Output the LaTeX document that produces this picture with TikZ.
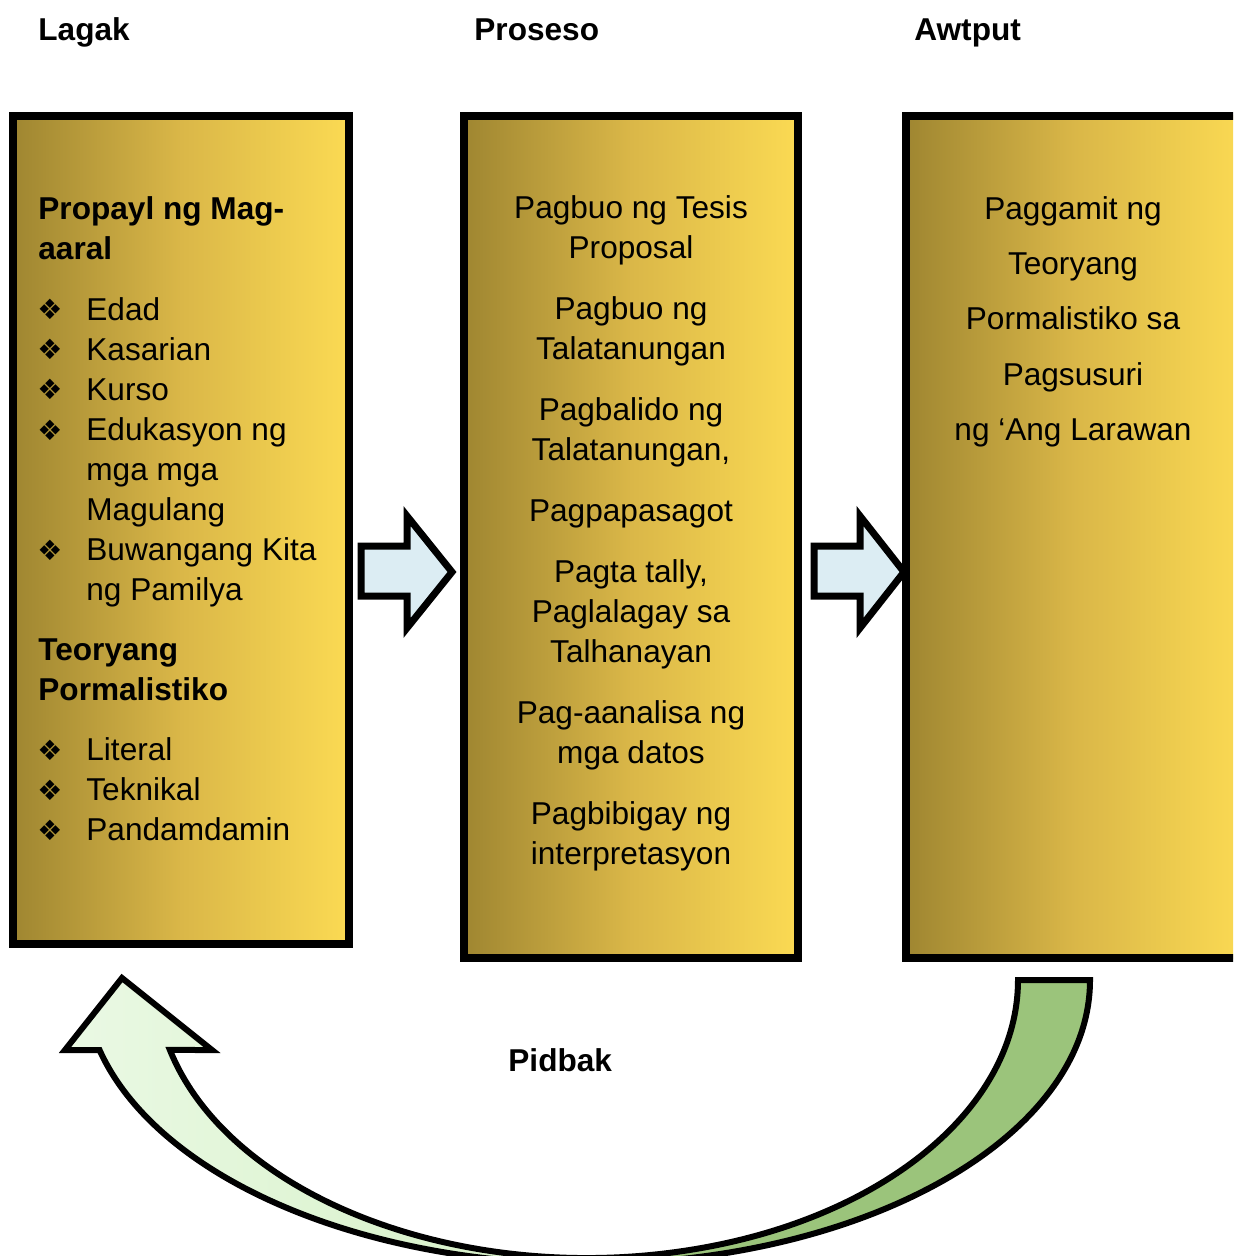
\documentclass[tikz,border=0pt]{standalone}
\usepackage{fontspec}
\setmainfont{Liberation Sans}
\newfontfamily\symfont{DejaVu Sans}
\usetikzlibrary{positioning}

\definecolor{goldL}{HTML}{9F8631}
\definecolor{goldM}{HTML}{DAB748}
\definecolor{goldR}{HTML}{FBDA53}
\definecolor{arrowblue}{HTML}{DCEDF3}
\definecolor{paleL}{HTML}{EAF9E4}
\definecolor{paleR}{HTML}{D4F0C4}
\definecolor{leaf}{HTML}{9BC47B}

\tikzset{
	stage/.style={draw=black, line width=4pt, left color=goldL, right color=goldR, middle color=goldM},
	txt/.style={inner sep=0pt, font=\fontsize{15.8}{20}\selectfont},
	hd/.style={inner sep=0pt, font=\fontsize{15.8}{20}\selectfont\bfseries},
	bullet/.style={inner sep=0pt, font=\fontsize{14}{16}\selectfont\symfont, anchor=base},
	blockarrow/.style={draw=black, line width=3.5pt, fill=arrowblue, line join=miter},
}

\begin{document}
\begin{tikzpicture}[x=0.5pt, y=-0.5pt]
	\useasboundingbox (0,0) rectangle (1233,1256);
	\clip (0,0) rectangle (1233,1256);
	
	%titles
	\node[hd, anchor=base west] (lagak) at (38,41) {Lagak};
	\node[hd, anchor=base west] (proseso) at (474,41) {Proseso};
	\node[hd, anchor=base west] (awtput) at (914,41) {Awtput};
	
	%Lagak box (multi-line nodes sit on their last baseline)
	\draw[stage] (13,116) rectangle (349,944);
	\node[hd, align=left, anchor=base west] (profile) at (38,260) {Propayl ng Mag-\\aaral};
	\node[txt, align=left, anchor=base west] (profilelist) at (86,600) {Edad\\Kasarian\\Kurso\\Edukasyon ng\\mga mga\\Magulang\\Buwangang Kita\\ng Pamilya};
	\foreach \y in {320,360,400,440,560}
		\node[bullet] (b\y) at (50,\y) {❖};
	\node[hd, align=left, anchor=base west] (theory) at (38,700) {Teoryang\\Pormalistiko};
	\node[txt, align=left, anchor=base west] (theorylist) at (86,840) {Literal\\Teknikal\\Pandamdamin};
	\foreach \y in {760,800,840}
		\node[bullet] (t\y) at (50,\y) {❖};
	
	%Proseso box
	\draw[stage] (464,116) rectangle (798,958);
	\node[txt, align=center, anchor=base] (steps) at (631,864) {Pagbuo ng Tesis\\Proposal\\[10.5pt]Pagbuo ng\\Talatanungan\\[10.5pt]Pagbalido ng\\Talatanungan,\\[10.5pt]Pagpapasagot\\[10.5pt]Pagta tally,\\Paglalagay sa\\Talhanayan\\[10.5pt]Pag-aanalisa ng\\mga datos\\[10.5pt]Pagbibigay ng\\interpretasyon};
	
	%Awtput box
	\draw[stage] (906,116) rectangle (1245,958);
	\node[txt, align=center, anchor=base, font=\fontsize{15.8}{27.5}\selectfont] (result) at (1073,440) {Paggamit ng\\Teoryang\\Pormalistiko sa\\Pagsusuri\\ng ‘Ang Larawan};
	
	%arrows between boxes
	\draw[blockarrow] (361,546) -- (407,546) -- (407,516) -- (452,572) -- (407,628) -- (407,596) -- (361,596) -- cycle;
	\draw[blockarrow] (814,546) -- (860,546) -- (860,516) -- (904,572) -- (860,628) -- (860,596) -- (814,596) -- cycle;
	
	%feedback arrow
	\coordinate (C) at (587,980);
	\path (C) ++(165.42:431 and 278) coordinate (innerL);
	\path (C) ++(165.73:503 and 284) coordinate (outerL);
	\coordinate (headL) at (65,1050);
	\coordinate (tip) at (122,978);
	\coordinate (headR) at (212,1050);
	\fill[left color=paleL, right color=paleR] (outerL) -- (headL) -- (tip) -- (headR) -- (innerL)
		arc[start angle=165.42, end angle=90, x radius=431, y radius=278] -- (587,1264)
		arc[start angle=90, end angle=165.73, x radius=503, y radius=284] -- cycle;
	\fill[leaf] (587,1258) arc[start angle=90, end angle=0, x radius=431, y radius=278] -- (1090,980)
		arc[start angle=0, end angle=90, x radius=503, y radius=284] -- cycle;
	\draw[line width=3pt, line join=miter] (outerL) -- (headL) -- (tip) -- (headR) -- (innerL)
		arc[start angle=165.42, end angle=0, x radius=431, y radius=278] -- (1090,980)
		arc[start angle=0, end angle=165.73, x radius=503, y radius=284] -- cycle;
	\node[hd, anchor=base west] (pidbak) at (508,1071) {Pidbak};
\end{tikzpicture}
\end{document}
